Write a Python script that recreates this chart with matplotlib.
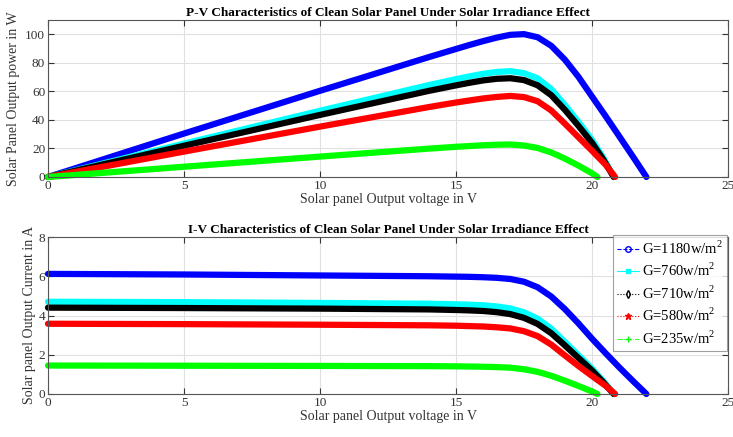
import matplotlib
matplotlib.use("Agg")
import matplotlib.pyplot as plt
from matplotlib.lines import Line2D

plt.rcParams['font.family'] = ['Liberation Serif', 'DejaVu Serif']
plt.rcParams['mathtext.fontset'] = 'custom'
plt.rcParams['mathtext.rm'] = 'Liberation Serif'

labels = ["G=1180w/m$^2$", "G=760w/m$^2$", "G=710w/m$^2$", "G=580w/m$^2$", "G=235w/m$^2$"]
colors = ["#0000ff", "#00ffff", "#000000", "#ff0000", "#00ff00"]

# Voltage (V) and current (A)
v_1180 = [0, 5, 10, 14, 15, 15.5, 16, 16.5, 17, 17.5, 18, 18.5, 19, 19.5, 20, 20.5, 21, 21.5, 22]
i_1180 = [6.12, 6.09, 6.04, 6.0, 5.98, 5.97, 5.95, 5.92, 5.86, 5.72, 5.44, 4.97, 4.33, 3.6, 2.82, 2.08, 1.36, 0.67, 0]
v_760 = [0, 5, 10, 14, 15, 15.5, 16, 16.5, 17, 17.5, 18, 18.5, 19, 19.5, 20, 20.4, 20.8]
i_760 = [4.7, 4.68, 4.64, 4.6, 4.57, 4.55, 4.52, 4.46, 4.36, 4.16, 3.84, 3.33, 2.66, 1.98, 1.3, 0.68, 0]
v_710 = [0, 5, 10, 14, 15, 15.5, 16, 16.5, 17, 17.5, 18, 18.5, 19, 19.5, 20, 20.4, 20.8]
i_710 = [4.4, 4.38, 4.35, 4.31, 4.28, 4.26, 4.23, 4.17, 4.07, 3.88, 3.57, 3.1, 2.48, 1.84, 1.2, 0.62, 0]
v_580 = [0, 5, 10, 14, 15, 15.5, 16, 16.5, 17, 17.5, 18, 18.5, 19, 19.5, 20, 20.5, 20.85]
i_580 = [3.58, 3.56, 3.53, 3.5, 3.48, 3.46, 3.44, 3.4, 3.34, 3.2, 2.95, 2.52, 1.97, 1.43, 0.92, 0.42, 0]
v_235 = [0, 5, 10, 14, 15, 15.5, 16, 16.5, 17, 17.5, 18, 18.5, 19, 19.5, 20, 20.2]
i_235 = [1.45, 1.44, 1.43, 1.42, 1.41, 1.4, 1.39, 1.37, 1.34, 1.26, 1.13, 0.93, 0.68, 0.41, 0.13, 0]

voltages = [v_1180, v_760, v_710, v_580, v_235]
currents = [i_1180, i_760, i_710, i_580, i_235]

W, H = 733, 437
fig = plt.figure(figsize=(W / 100, H / 100), dpi=100)
ax1 = fig.add_axes([48 / W, 1 - 177 / H, 680 / W, 157 / H])
ax2 = fig.add_axes([48 / W, 1 - 394 / H, 680 / W, 157 / H])

lw = 4.5
for v, i, c in zip(voltages, currents, colors):
    p = [a * b for a, b in zip(v, i)]
    ax1.plot(v, p, color=c, lw=lw, solid_capstyle='round', solid_joinstyle='round', clip_on=False)
    ax2.plot(v, i, color=c, lw=lw, solid_capstyle='round', solid_joinstyle='round', clip_on=False)

fs = 9.5
for ax, ylim, yt in [(ax1, (0, 110), [0, 20, 40, 60, 80, 100]), (ax2, (0, 8), [0, 2, 4, 6, 8])]:
    ax.set_xlim(0, 25)
    ax.set_ylim(*ylim)
    ax.set_xticks([0, 5, 10, 15, 20, 25])
    ax.set_yticks(yt)
    ax.grid(True, color='#e0e0e0', lw=0.8)
    ax.set_axisbelow(True)
    ax.tick_params(direction='in', top=True, right=True, labelsize=fs, colors='#333333',
                   length=4, pad=2)
    for s in ax.spines.values():
        s.set_color('#555555')
        s.set_linewidth(0.8)

ax1.set_title("P-V Characteristics of Clean Solar Panel Under Solar Irradiance Effect",
              fontsize=fs, fontweight='bold', pad=3)
ax2.set_title("I-V Characteristics of Clean Solar Panel Under Solar Irradiance Effect",
              fontsize=fs, fontweight='bold', pad=3)
ax1.set_xlabel("Solar panel Output voltage in V", fontsize=fs + 0.5, color='#333333', labelpad=1)
ax2.set_xlabel("Solar panel Output voltage in V", fontsize=fs + 0.5, color='#333333', labelpad=1)
ax1.set_ylabel("Solar Panel Output power in W", fontsize=fs + 0.5, color='#333333', labelpad=4)
ax2.set_ylabel("Solar panel Output Current in A", fontsize=fs + 0.5, color='#333333', labelpad=2)

handles = [
    Line2D([], [], color=colors[0], ls='--', lw=0.8, marker='o', ms=4, mfc='none'),
    Line2D([], [], color=colors[1], ls='-', lw=0.8, marker='s', ms=2.5),
    Line2D([], [], color=colors[2], ls=':', lw=0.8, marker='d', ms=4, mfc='none'),
    Line2D([], [], color=colors[3], ls=':', lw=0.8, marker='*', ms=5),
    Line2D([], [], color=colors[4], ls='-.', lw=0.6, marker='+', ms=4),
]
leg = ax2.legend(handles, labels, loc='upper right', bbox_to_anchor=(0.998, 1.013),
                 fontsize=10.5, frameon=True, fancybox=False, borderaxespad=0,
                 handlelength=1.5, handletextpad=0.15, labelspacing=0.36,
                 borderpad=0.3)
leg.get_frame().set_edgecolor('#888888')
leg.get_frame().set_linewidth(0.8)

fig.savefig("out.png", dpi=100)
